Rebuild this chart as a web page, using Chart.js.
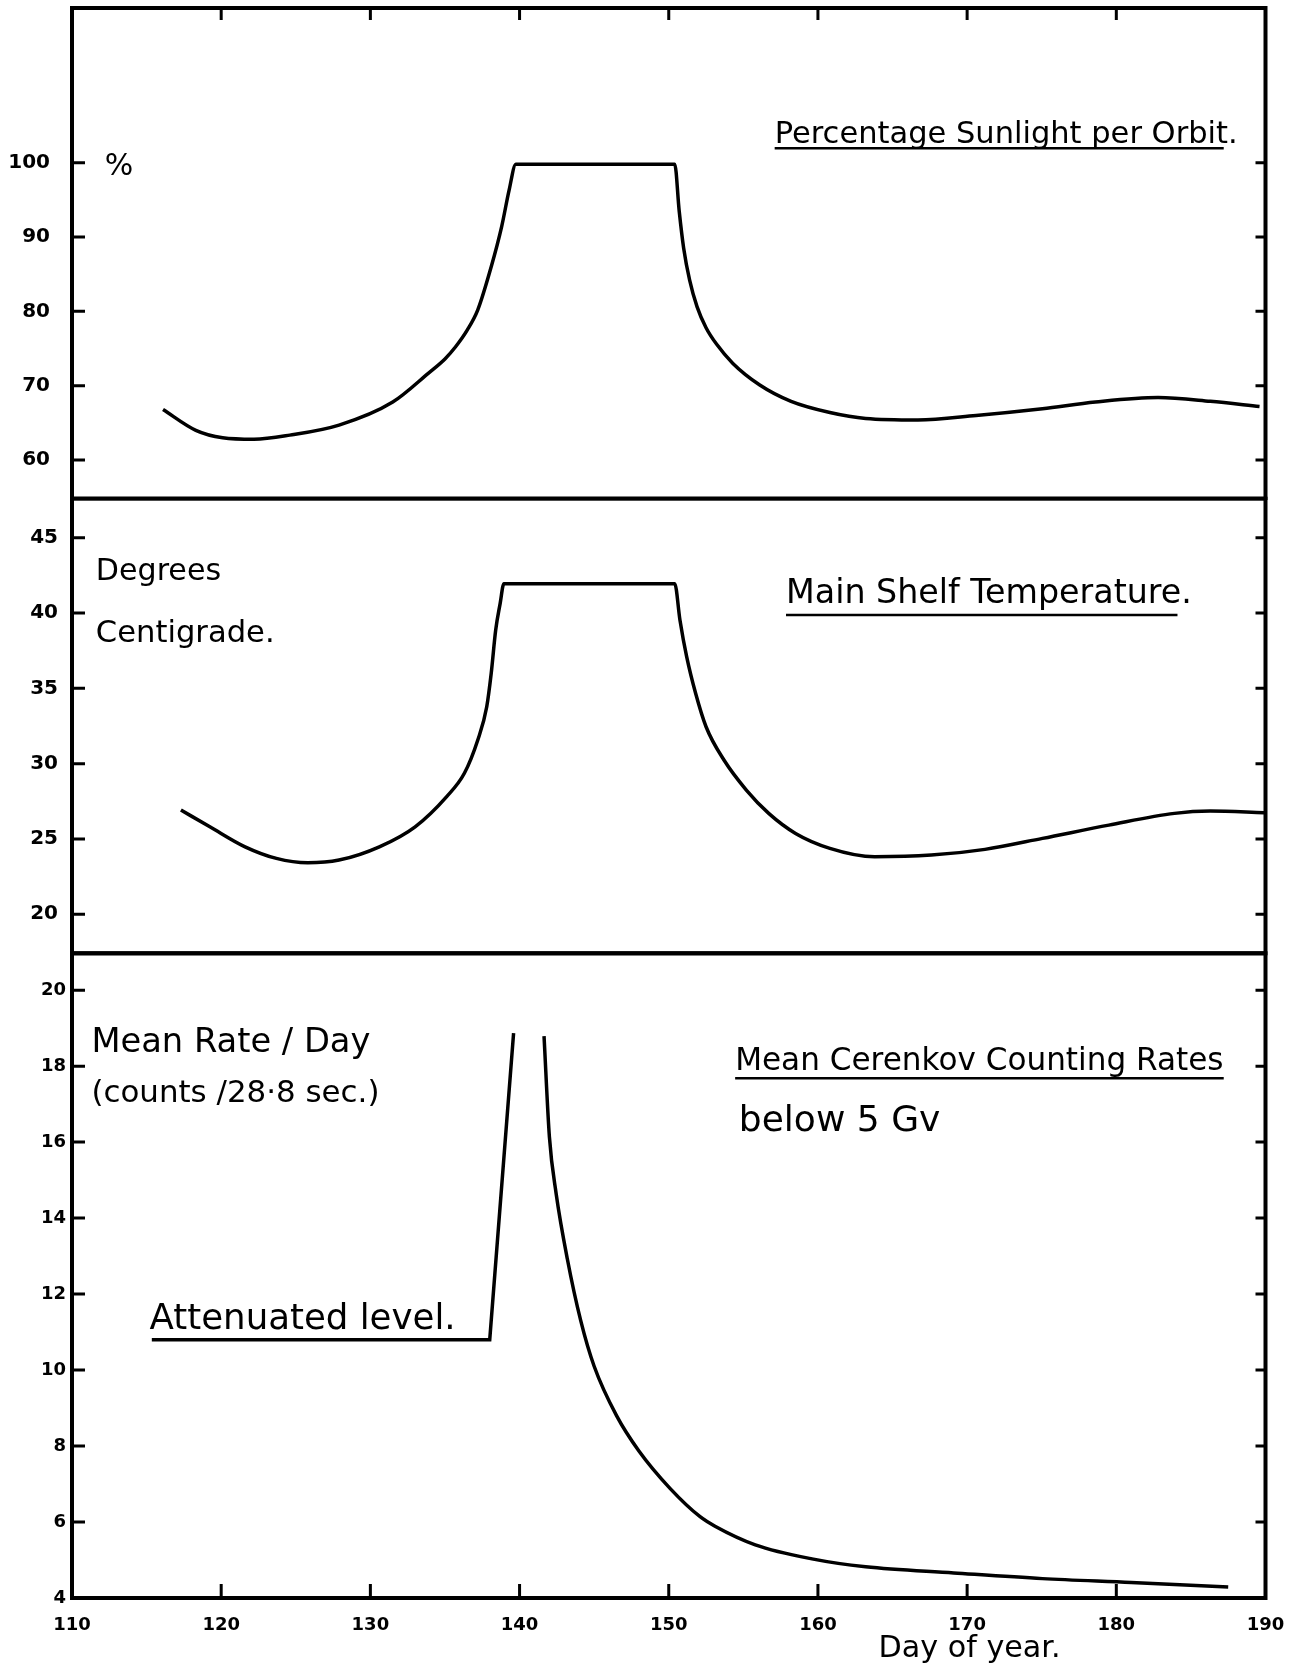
<!doctype html>
<html lang="en">
<head>
  <meta charset="UTF-8">
  <title>Sunlight, shelf temperature and Cerenkov rates</title>
  <script src="https://cdn.jsdelivr.net/npm/chart.js@4.4.0/dist/chart.umd.min.js"></script>
  <style>
      html, body {
          margin: 0;
          padding: 0;
          background: #fff;
          overflow: hidden;
      }
      .panel {
          position: absolute;
          left: 0;
          width: 1293px;
      }
  </style>
</head>
<body>

<div class="panel" style="top:0"><canvas id="sun" width="1293" height="500"></canvas></div>
<div class="panel" style="top:490px"><canvas id="temp" width="1293" height="470"></canvas></div>
<div class="panel" style="top:945px"><canvas id="rate" width="1293" height="729"></canvas></div>

<script>
  // day of year, shared by all three panels
  const xTicks = [110, 120, 130, 140, 150, 160, 170, 180, 190]
  const xInner = [120, 130, 140, 150, 160, 170, 180]

  // percentage sunlight per orbit
  const days1 = [116.1, 118.3, 120.1, 122.2, 124.6, 127.9, 131.5, 133.9, 135.0, 135.7, 136.5, 137.2, 138.1, 138.8, 139.3, 139.75,
    150.4, 150.7, 151.0, 151.4, 151.9, 152.5, 153.2, 154.3, 156.1, 158.2, 160.8, 163.2, 166.7, 170.6, 175.05, 178.6, 182.8, 186.3, 189.6]
  const sunlight = [66.8, 64.0, 63.0, 62.8, 63.35, 64.7, 67.8, 71.7, 73.6, 75.2, 77.5, 80.2, 86.0, 91.4, 96.3, 99.8,
    99.8, 93.5, 88.5, 84.2, 80.6, 77.8, 75.6, 73.0, 70.1, 67.9, 66.4, 65.6, 65.4, 66.0, 66.9, 67.8, 68.4, 67.9, 67.2]
  const yTicks1 = [60, 70, 80, 90, 100]

  // main shelf temperature, degrees C
  const days2 = [117.3, 119.24, 121.6, 123.7, 125.8, 127.9, 130.6, 133.0, 135.1, 136.3, 137.2, 137.8, 138.1, 138.4, 138.7, 138.95,
    150.4, 150.75, 151.2, 151.8, 152.5, 153.7, 155.2, 156.7, 158.5, 160.8, 163.8, 167.6, 171.2, 175.05, 179.5, 183.9, 186.3, 189.9]
  const shelfTemp = [26.92, 25.81, 24.48, 23.71, 23.42, 23.6, 24.48, 25.81, 27.8, 29.36, 31.57, 33.78, 36.0, 38.87, 40.64, 41.95,
    41.95, 39.54, 37.1, 34.67, 32.45, 30.24, 28.25, 26.7, 25.37, 24.38, 23.82, 23.93, 24.31, 25.04, 25.92, 26.7, 26.85, 26.74]
  const yTicks2 = [20, 25, 30, 35, 40, 45]

  // mean Cerenkov counting rate below 5 GV (counts / 28.8 sec)
  const daysAtt = [115.35, 138.0, 139.6]
  const attenuated = [10.8, 10.8, 18.87]
  const daysDecay = [141.64, 142.0, 142.45, 143.2, 144.1, 145.0, 146.5, 148.0, 150.1, 152.1, 153.1, 155.8, 159.6, 163.2, 169.1, 175.05, 181.0, 187.5]
  const cerenkov = [18.79, 16.14, 14.65, 12.93, 11.3, 10.1, 8.8, 7.87, 6.88, 6.14, 5.89, 5.40, 5.03, 4.82, 4.66, 4.51, 4.41, 4.29]
  const yTicks3 = [4, 6, 8, 10, 12, 14, 16, 18, 20]
  const yTicks3Right = [6, 8, 10, 12, 14, 16, 18, 20]

  const HAND = '"DejaVu Sans", sans-serif'

  const pts = (xs, ys) => xs.map((x, i) => ({ x, y: ys[i] }))

  // frame + inward tick marks, placed through the chart's own scales
  const framePlugin = {
    id: 'frame',
    afterDatasetsDraw(chart, args, opts) {
      const { ctx, chartArea: a, scales: { x, y } } = chart
      ctx.save()
      ctx.strokeStyle = '#000'
      ctx.lineWidth = 4
      ctx.strokeRect(a.left, a.top, a.right - a.left, a.bottom - a.top)
      ctx.lineWidth = 3
      ctx.beginPath()
      ;(opts.left || []).forEach(v => {
        const py = y.getPixelForValue(v)
        ctx.moveTo(a.left, py); ctx.lineTo(a.left + 13, py)
      })
      ;(opts.right || []).forEach(v => {
        const py = y.getPixelForValue(v)
        ctx.moveTo(a.right, py); ctx.lineTo(a.right - 10, py)
      })
      ;(opts.top || []).forEach(d => {
        const px = x.getPixelForValue(d)
        ctx.moveTo(px, a.top); ctx.lineTo(px, a.top + 12)
      })
      ;(opts.bottom || []).forEach(d => {
        const px = x.getPixelForValue(d)
        ctx.moveTo(px, a.bottom); ctx.lineTo(px, a.bottom - 14)
      })
      ctx.stroke()
      ctx.restore()
    }
  }

  // handwritten-style notes, positioned in data units
  const notesPlugin = {
    id: 'notes',
    afterDraw(chart, args, opts) {
      const { ctx, scales: { x, y } } = chart
      ctx.save()
      ctx.fillStyle = '#000'
      ctx.strokeStyle = '#000'
      ctx.textBaseline = 'alphabetic'
      ctx.textAlign = 'left'
      ;(opts.items || []).forEach(n => {
        const x0 = x.getPixelForValue(n.x0)
        let size = n.size || 26
        if (n.x1 !== undefined) {
          ctx.font = '100px ' + HAND
          size = 100 * (x.getPixelForValue(n.x1) - x0) / ctx.measureText(n.text).width
        }
        ctx.font = size.toFixed(1) + 'px ' + HAND
        ctx.fillText(n.text, x0, y.getPixelForValue(n.y))
        if (n.line) {
          const ly = y.getPixelForValue(n.line[2])
          ctx.lineWidth = 2.5
          ctx.beginPath()
          ctx.moveTo(x.getPixelForValue(n.line[0]), ly)
          ctx.lineTo(x.getPixelForValue(n.line[1]), ly)
          ctx.stroke()
        }
      })
      ctx.restore()
    }
  }

  function makePanel(id, cfg) {
    return new Chart(document.getElementById(id), {
      type: 'line',
      data: { datasets: cfg.datasets },
      options: {
        responsive: false,
        animation: false,
        layout: { padding: cfg.padding },
        elements: { point: { radius: 0 } },
        plugins: {
          legend: { display: false },
          tooltip: { enabled: false },
          frame: cfg.frame,
          notes: { items: cfg.notes }
        },
        scales: {
          x: {
            type: 'linear',
            min: 110,
            max: 190,
            display: cfg.showX,
            afterBuildTicks: s => { s.ticks = xTicks.map(v => ({ value: v })) },
            afterFit: s => {
              s.height = cfg.xHeight || 0
              s.paddingLeft = 0
              s.paddingRight = 0
            },
            grid: { display: false, drawTicks: false },
            border: { display: false },
            ticks: { color: '#000', padding: 17, maxRotation: 0, font: { family: HAND, size: 18, weight: 'bold' } }
          },
          y: {
            min: cfg.yMin,
            max: cfg.yMax,
            afterBuildTicks: s => { s.ticks = cfg.yTicks.map(v => ({ value: v })) },
            afterFit: s => {
              s.width = 72
              s.paddingTop = 0
              s.paddingBottom = 0
            },
            grid: { display: false, drawTicks: false },
            border: { display: false },
            ticks: { color: '#000', padding: cfg.yPad, font: { family: HAND, size: cfg.ySize, weight: 'bold' } }
          }
        }
      },
      plugins: [framePlugin, notesPlugin]
    })
  }

  const lineStyle = { borderColor: '#000', borderWidth: 3.5, fill: false, cubicInterpolationMode: 'monotone' }

  makePanel('sun', {
    padding: { top: 8, bottom: 1.3, left: 0, right: 27.5 },
    showX: false,
    yMin: 54.8, yMax: 120.8, yTicks: yTicks1, yPad: 22, ySize: 20,
    frame: { left: yTicks1, right: yTicks1, top: xInner },
    datasets: [{ data: pts(days1, sunlight), ...lineStyle }],
    notes: [
      { text: '%', x0: 112.2, y: 98.35, size: 30 },
      { text: 'Percentage Sunlight per Orbit.', x0: 157.1, x1: 188.1, y: 102.6, line: [157.1, 187.2, 101.94] }
    ]
  })

  makePanel('temp', {
    padding: { top: 8.7, bottom: 6.7, left: 0, right: 27.5 },
    showX: false,
    yMin: 17.41, yMax: 47.59, yTicks: yTicks2, yPad: 14, ySize: 20,
    frame: { left: yTicks2, right: yTicks2 },
    datasets: [{ data: pts(days2, shelfTemp), ...lineStyle }],
    notes: [
      { text: 'Degrees', x0: 111.6, x1: 120.0, y: 42.19 },
      { text: 'Centigrade.', x0: 111.6, x1: 123.6, y: 38.07 },
      { text: 'Main Shelf Temperature.', x0: 157.86, x1: 185.1, y: 40.66, line: [157.86, 184.1, 39.87] }
    ]
  })

  makePanel('rate', {
    padding: { top: 8.3, bottom: 0, left: 0, right: 27.5 },
    showX: true,
    xHeight: 76,
    yMin: 4, yMax: 20.97, yTicks: yTicks3, yPad: 6, ySize: 18,
    frame: { left: yTicks3, right: yTicks3Right, bottom: xInner },
    datasets: [
      { data: pts(daysAtt, attenuated), ...lineStyle, cubicInterpolationMode: 'default', tension: 0 },
      { data: pts(daysDecay, cerenkov), ...lineStyle }
    ],
    notes: [
      { text: 'Mean Rate / Day', x0: 111.3, x1: 130.0, y: 18.37 },
      { text: '(counts /28\u00b78 sec.)', x0: 111.3, x1: 130.6, y: 17.06 },
      { text: 'Mean Cerenkov Counting Rates', x0: 154.45, x1: 187.2, y: 17.89, line: [154.45, 187.2, 17.68] },
      { text: 'below 5 Gv', x0: 154.7, x1: 168.2, y: 16.28 },
      { text: 'Attenuated level.', x0: 115.2, x1: 135.7, y: 11.08 },
      { text: 'Day of year.', x0: 164.06, x1: 176.26, y: 2.45 }
    ]
  })
</script>

</body>
</html>
